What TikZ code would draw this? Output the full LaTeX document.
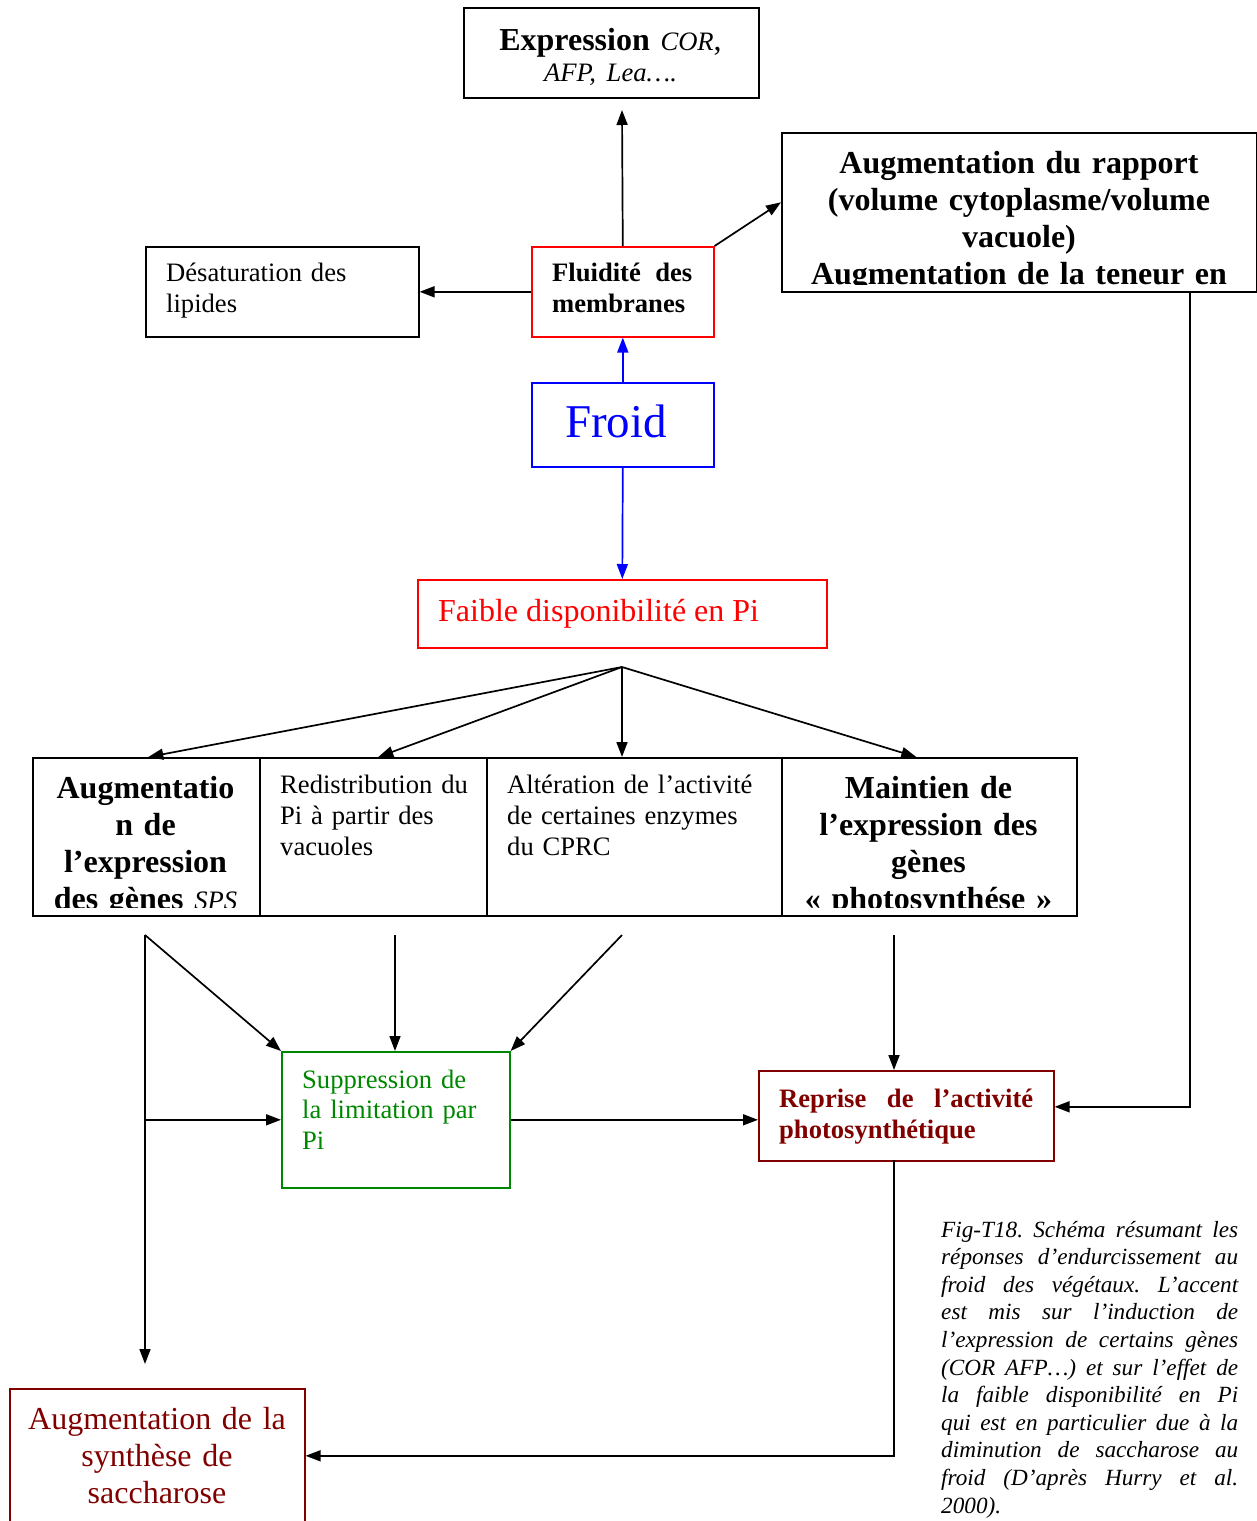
\documentclass[tikz,border=0pt]{standalone}
\usepackage{fontspec}
\setmainfont{Liberation Serif}
\usetikzlibrary{arrows.meta,calc}
\definecolor{dred}{RGB}{128,0,0}
\definecolor{dgreen}{RGB}{0,135,0}
\begin{document}
\frenchspacing
\begin{tikzpicture}[x=1pt,y=-1pt,
  box/.style={draw, line width=1.6pt, inner sep=0pt, anchor=north west},
  txt/.style={inner sep=0pt},
  arr/.style={line width=1.7pt, -{Triangle[length=15pt,width=11pt]}},
  bigf/.style={font=\fontsize{32}{37}\selectfont},
  bigbf/.style={font=\fontsize{32}{37}\selectfont\bfseries},
  midf/.style={font=\fontsize{26.6}{31}\selectfont},
  midbf/.style={font=\fontsize{26.6}{31}\selectfont\bfseries},
  capf/.style={font=\fontsize{23.2}{27.6}\selectfont\itshape}]
\useasboundingbox (0,0) rectangle (1257,1521);

% boxes
\node[box, minimum width=295, minimum height=90] (expr) at (463,7) {};
\node[box, minimum width=475, minimum height=159] (rbox) at (781,132) {};
\node[box, minimum width=273, minimum height=90] (des) at (145,246) {};
\node[box, draw=red, minimum width=182, minimum height=90] (flu) at (531,246) {};
\node[box, draw=blue, minimum width=182, minimum height=84] (froid) at (531,382) {};
\node[box, draw=red, minimum width=409, minimum height=68] (faible) at (417,579) {};
\node[box, minimum width=227, minimum height=158] (c1) at (32,757) {};
\node[box, minimum width=227, minimum height=158] (c2) at (259,757) {};
\node[box, minimum width=295, minimum height=158] (c3) at (486,757) {};
\node[box, minimum width=295, minimum height=158] (c4) at (781,757) {};
\node[box, draw=dgreen, minimum width=228, minimum height=136] (sup) at (281,1051) {};
\node[box, draw=dred, minimum width=295, minimum height=90] (rep) at (758,1070) {};
\node[box, draw=dred, minimum width=295, minimum height=150] (aug) at (9,1388) {};

% texts
\node[txt, anchor=base, text width=285, align=center, font=\fontsize{32}{31}\selectfont] (exprt) at (610.5,50)
  {\textbf{Expression} {\fontsize{26.6}{31}\selectfont\itshape COR},\\{\fontsize{26.6}{31}\selectfont\itshape AFP, Lea….}};
\begin{scope}
\clip (781,132) rectangle (1257,284);
\node[txt, anchor=base, text width=460, align=center, bigbf] (rboxt) at (1019,173)
  {Augmentation du rapport\\(volume cytoplasme/volume\\vacuole)\\Augmentation de la teneur en\\sucres};
\end{scope}
\node[txt, anchor=base west, text width=240, align=left, midf] (dest) at (166,281) {Désaturation des\\lipides};
\node[txt, anchor=base west, text width=140, align=justify, midbf] (flut) at (552,281) {Fluidité des\linebreak membranes};
\node[txt, anchor=base, text=blue, font=\fontsize{47}{50}\selectfont] (froidt) at (616,437) {Froid};
\node[txt, anchor=base west, text=red, bigf] (faiblet) at (438,621) {Faible disponibilité en Pi};
\begin{scope}
\clip (32,757) rectangle (259,907);
\node[txt, anchor=base, text width=222, align=center, bigbf] (c1t) at (145.5,798)
  {Augmentatio\\n de\\l’expression\\des gènes {\fontsize{26.6}{31}\selectfont\mdseries\itshape SPS}};
\end{scope}
\node[txt, anchor=base west, text width=205, align=left, midf] (c2t) at (280,793) {Redistribution du\\Pi à partir des\\vacuoles};
\node[txt, anchor=base west, text width=270, align=left, midf] (c3t) at (507,793) {Altération de l’activité\\de certaines enzymes\\du CPRC};
\begin{scope}
\clip (781,757) rectangle (1076,907);
\node[txt, anchor=base, text width=290, align=center, bigbf] (c4t) at (928.5,798)
  {Maintien de\\l’expression des\\gènes\\«~photosynthése~»};
\end{scope}
\node[txt, anchor=base west, text width=205, align=left, text=dgreen, font=\fontsize{26.6}{30.5}\selectfont] (supt) at (302,1088)
  {Suppression de\\la limitation par\\Pi};
\node[txt, anchor=base west, text width=254, align=justify, text=dred, midbf] (rept) at (779,1107)
  {Reprise de l’activité\linebreak photosynthétique};
\node[txt, anchor=base, text width=285, align=center, text=dred, bigf] (augt) at (157,1429)
  {Augmentation de la\\synthèse de\\saccharose};
\node[txt, anchor=base west, text width=297, align=justify, capf] (cap) at (941,1237)
  {\hyphenpenalty=10000 Fig-T18. Schéma résumant les\linebreak
   réponses d’endurcissement au\linebreak
   froid des végétaux. L’accent\linebreak
   est mis sur l’induction de\linebreak
   l’expression de certains gènes\linebreak
   (COR AFP…) et sur l’effet de\linebreak
   la faible disponibilité en Pi\linebreak
   qui est en particulier due à la\linebreak
   diminution de saccharose au\linebreak
   froid (D’après Hurry et al.\linebreak
   2000).};

% free-end coordinates
\coordinate (exprtip) at (622,110);
\coordinate (fan) at (622,667);
\coordinate (s1) at (145,935);
\coordinate (s2) at (395,935);
\coordinate (s3) at (622,935);
\coordinate (s4) at (894,935);
\coordinate (down) at (145,1364);
\coordinate (rr) at (1190,291);
\coordinate (rb) at (894,1160);

% connectors
\draw[arr] (flu.north) -- (exprtip);
\draw[arr] (flu.north east) -- ($(rbox.west)+(0,-10)$);
\draw[arr] (flu.west) -- (des.east);
\draw[arr, blue] (froid.north) -- (flu.south);
\draw[arr, blue] (froid.south) -- (faible.north);
\draw[arr] (fan) -- ([xshift=2pt]c1.north);
\draw[arr] (fan) -- ([xshift=5pt]c2.north);
\draw[arr] (fan) -- (c3.north -| fan);
\draw[arr] (fan) -- ([xshift=-13pt]c4.north);
\draw[arr] (s1) -- (sup.north west);
\draw[arr] (s2) -- (sup.north -| s2);
\draw[arr] (s3) -- (sup.north east);
\draw[arr] (s4) -- (rep.north -| s4);
\draw[arr] (s1) -- (down);
\draw[arr] (s1 |- sup.west) -- (sup.west);
\draw[arr] (sup.east) -- (sup.east -| rep.west);
\draw[arr] (rr) |- ($(rep.east)+(0,-9)$);
\draw[arr] (rb) |- ($(aug.east)+(0,-8)$);
\end{tikzpicture}
\end{document}
